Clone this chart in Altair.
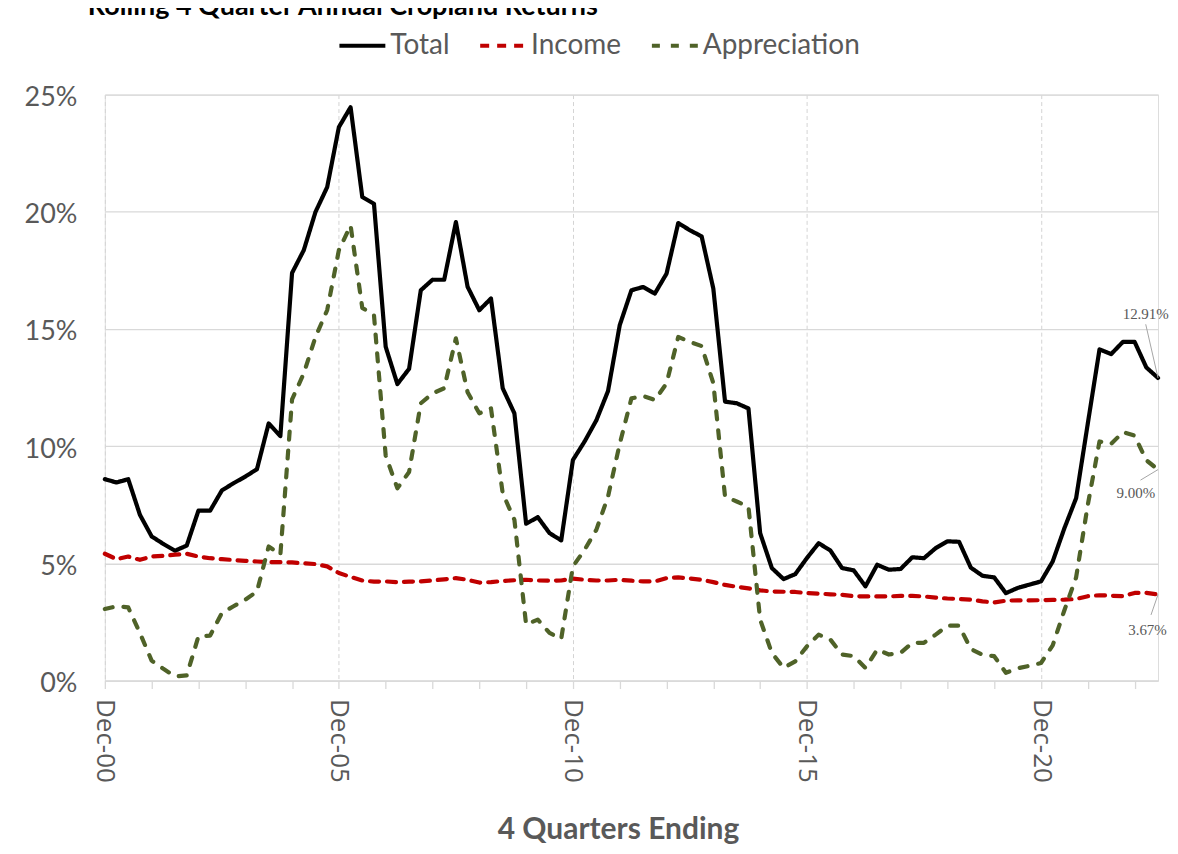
import json
import altair as alt
import pandas as pd

# ---------------- data ----------------
SERIES = ["Total", "Income", "Appreciation"]
TICK_LABELS = ["Dec-00", "Dec-05", "Dec-10", "Dec-15", "Dec-20"]
QUARTER_INDEX = list(range(91))  # Dec-00 ... Jun-23, quarterly

total = [8.59, 8.45, 8.59, 7.07, 6.15, 5.83, 5.54, 5.76, 7.25, 7.25,
         8.11, 8.42, 8.70, 9.02, 10.97, 10.43, 17.39, 18.36, 19.99, 21.05,
         23.61, 24.46, 20.63, 20.34, 14.24, 12.65, 13.30, 16.65, 17.10, 17.10,
         19.56, 16.80, 15.80, 16.30, 12.47, 11.40, 6.69, 6.97, 6.29, 5.98,
         9.41, 10.20, 11.10, 12.35, 15.16, 16.65, 16.79, 16.51, 17.36, 19.52,
         19.21, 18.95, 16.72, 11.90, 11.83, 11.61, 6.29, 4.80, 4.33, 4.54,
         5.23, 5.86, 5.55, 4.80, 4.70, 4.02, 4.94, 4.73, 4.76, 5.26,
         5.22, 5.65, 5.94, 5.92, 4.82, 4.47, 4.40, 3.73, 3.95, 4.09,
         4.23, 5.08, 6.50, 7.78, 10.97, 14.13, 13.93, 14.45, 14.45, 13.36,
         12.91]

income = [5.41, 5.18, 5.29, 5.15, 5.29, 5.32, 5.37, 5.41, 5.29, 5.22,
          5.18, 5.14, 5.11, 5.08, 5.05, 5.05, 5.04, 5.00, 4.97, 4.87,
          4.59, 4.42, 4.27, 4.22, 4.23, 4.20, 4.22, 4.23, 4.27, 4.32,
          4.37, 4.30, 4.18, 4.20, 4.25, 4.28, 4.30, 4.27, 4.26, 4.27,
          4.35, 4.30, 4.27, 4.27, 4.30, 4.26, 4.23, 4.23, 4.37, 4.40,
          4.35, 4.30, 4.20, 4.08, 4.00, 3.93, 3.85, 3.80, 3.79, 3.78,
          3.73, 3.71, 3.68, 3.66, 3.60, 3.59, 3.59, 3.59, 3.61, 3.61,
          3.59, 3.54, 3.50, 3.48, 3.45, 3.38, 3.33, 3.41, 3.42, 3.42,
          3.43, 3.44, 3.45, 3.48, 3.60, 3.64, 3.62, 3.60, 3.74, 3.74,
          3.67]

appreciation = [3.05, 3.17, 3.12, 2.03, 0.85, 0.50, 0.18, 0.22, 1.89, 1.92,
                2.88, 3.17, 3.45, 3.80, 5.72, 5.37, 12.00, 13.10, 14.66, 15.80,
                18.36, 19.42, 15.90, 15.59, 9.60, 8.20, 8.90, 11.83, 12.25, 12.47,
                14.60, 12.30, 11.40, 11.61, 7.99, 6.86, 2.39, 2.60, 2.03, 1.78,
                4.87, 5.58, 6.43, 7.85, 10.10, 12.04, 12.14, 11.97, 12.68, 14.66,
                14.45, 14.27, 12.68, 7.85, 7.64, 7.42, 2.60, 1.18, 0.54, 0.82,
                1.46, 1.96, 1.75, 1.11, 1.04, 0.54, 1.32, 1.11, 1.18, 1.61,
                1.61, 1.96, 2.34, 2.34, 1.35, 1.10, 1.04, 0.33, 0.52, 0.63,
                0.75, 1.50, 3.00, 4.40, 7.50, 10.20, 10.10, 10.60, 10.45, 9.40,
                9.00]

# end-of-series callouts: value, label anchor (quarter index, percent)
CALLOUT_TEXT = ["12.91%", "9.00%", "3.67%"]
CALLOUT_VALUE = [12.91, 9.00, 3.67]
CALLOUT_LABEL_X = [88.95, 88.1, 89.1]
CALLOUT_LABEL_Y = [15.65, 8.0, 2.15]
CALLOUT_LEAD_X = [88.95, 88.5, 89.4]
CALLOUT_LEAD_Y = [15.2, 8.55, 2.8]

# ---------------- build tables ----------------
rows = []
for name, vals in zip(SERIES, [total, income, appreciation]):
    for q, v in zip(QUARTER_INDEX, vals):
        rows.append({"q": q, "series": name, "value": v / 100.0})
df = pd.DataFrame(rows)

call = pd.DataFrame({
    "text": CALLOUT_TEXT,
    "q": [QUARTER_INDEX[-1]] * 3,
    "value": [v / 100.0 for v in CALLOUT_VALUE],
    "lx": CALLOUT_LABEL_X,
    "ly": [v / 100.0 for v in CALLOUT_LABEL_Y],
    "ex": CALLOUT_LEAD_X,
    "ey": [v / 100.0 for v in CALLOUT_LEAD_Y],
})

GRAY = "#595959"
GRID = "#d9d9d9"
W, H = 1055, 587

label_expr = ("datum.value % 20 === 0 ? " + json.dumps(TICK_LABELS) +
              "[datum.value / 20] : ''")

x_scale = alt.Scale(domain=[0, 90], nice=False, zero=False)
y_scale = alt.Scale(domain=[0, 0.25], nice=False)

x_axis = alt.Axis(
    values=list(range(0, 89, 4)),
    labelExpr=label_expr,
    labelAngle=90,
    labelFont="Open Sans",
    labelFontSize=26,
    labelColor=GRAY,
    labelPadding=10,
    labelOverlap=False,
    labelFlush=False,
    title="4 Quarters Ending",
    titleFont="Lato",
    titleFontSize=30,
    titleFontWeight="bold",
    titleColor=GRAY,
    titlePadding=32,
    titleX=514,
    domainColor=GRID,
    domainWidth=1.3,
    tickColor=GRID,
    tickWidth=1.3,
    tickSize=8,
    grid=True,
    gridColor="#d4d4d4",
    gridDash=[4, 3],
    gridWidth=1,
    gridOpacity={"condition": {"test": "datum.value % 20 === 0", "value": 1},
                 "value": 0},
)

y_axis = alt.Axis(
    values=[0, 0.05, 0.10, 0.15, 0.20, 0.25],
    format=".0%",
    labelFont="Lato",
    labelFontSize=27,
    labelColor=GRAY,
    labelPadding=28,
    labelOffset=3,
    domain=False,
    ticks=False,
    grid=True,
    gridColor=GRID,
    gridWidth=1.3,
    title=None,
)

lines = alt.Chart(df).mark_line(strokeWidth=4.2, strokeJoin="round", strokeCap="round").encode(
    x=alt.X("q:Q", scale=x_scale, axis=x_axis),
    y=alt.Y("value:Q", scale=y_scale, axis=y_axis),
    color=alt.Color(
        "series:N",
        scale=alt.Scale(domain=SERIES, range=["#000000", "#C00000", "#4F6228"]),
        sort=SERIES,
        legend=alt.Legend(
            title=None,
            orient="none",
            direction="horizontal",
            legendX=233,
            legendY=-74,
            labelFont="Lato",
            labelFontSize=28,
            labelColor=GRAY,
            symbolType="stroke",
            symbolSize=2116,
            symbolStrokeWidth=4,
            labelOffset=3,
            columnPadding=22,
        ),
    ),
    strokeDash=alt.StrokeDash(
        "series:N",
        scale=alt.Scale(domain=SERIES, range=[[1, 0], [9, 8], [8, 11]]),
        sort=SERIES,
        legend=None,
    ),
    order=alt.Order("q:Q"),
)

leaders = alt.Chart(call).mark_rule(color="#a6a6a6", strokeWidth=1).encode(
    x=alt.X("q:Q", scale=x_scale),
    y=alt.Y("value:Q", scale=y_scale),
    x2="ex:Q",
    y2="ey:Q",
)

callouts = alt.Chart(call).mark_text(
    font="Liberation Serif", fontSize=15, color=GRAY, align="center", baseline="middle"
).encode(
    x=alt.X("lx:Q", scale=x_scale),
    y=alt.Y("ly:Q", scale=y_scale),
    text="text:N",
)

title = alt.Chart(pd.DataFrame({"t": ["Rolling 4 Quarter Annual Cropland Returns"]})).mark_text(
    font="Lato", fontSize=27, fontWeight="bold", color="#000000",
    align="left", baseline="alphabetic",
).encode(x=alt.value(-17), y=alt.value(-80), text="t:N")

chart = alt.layer(lines, leaders, callouts, title).properties(
    width=W, height=H,
    autosize=alt.AutoSizeParams(type="none"),
    padding={"left": 97, "top": 86, "right": 12, "bottom": 165},
).configure_view(stroke=None).configure(background="white")

chart.save("out.html", embed_options={"renderer": "svg", "actions": False})
